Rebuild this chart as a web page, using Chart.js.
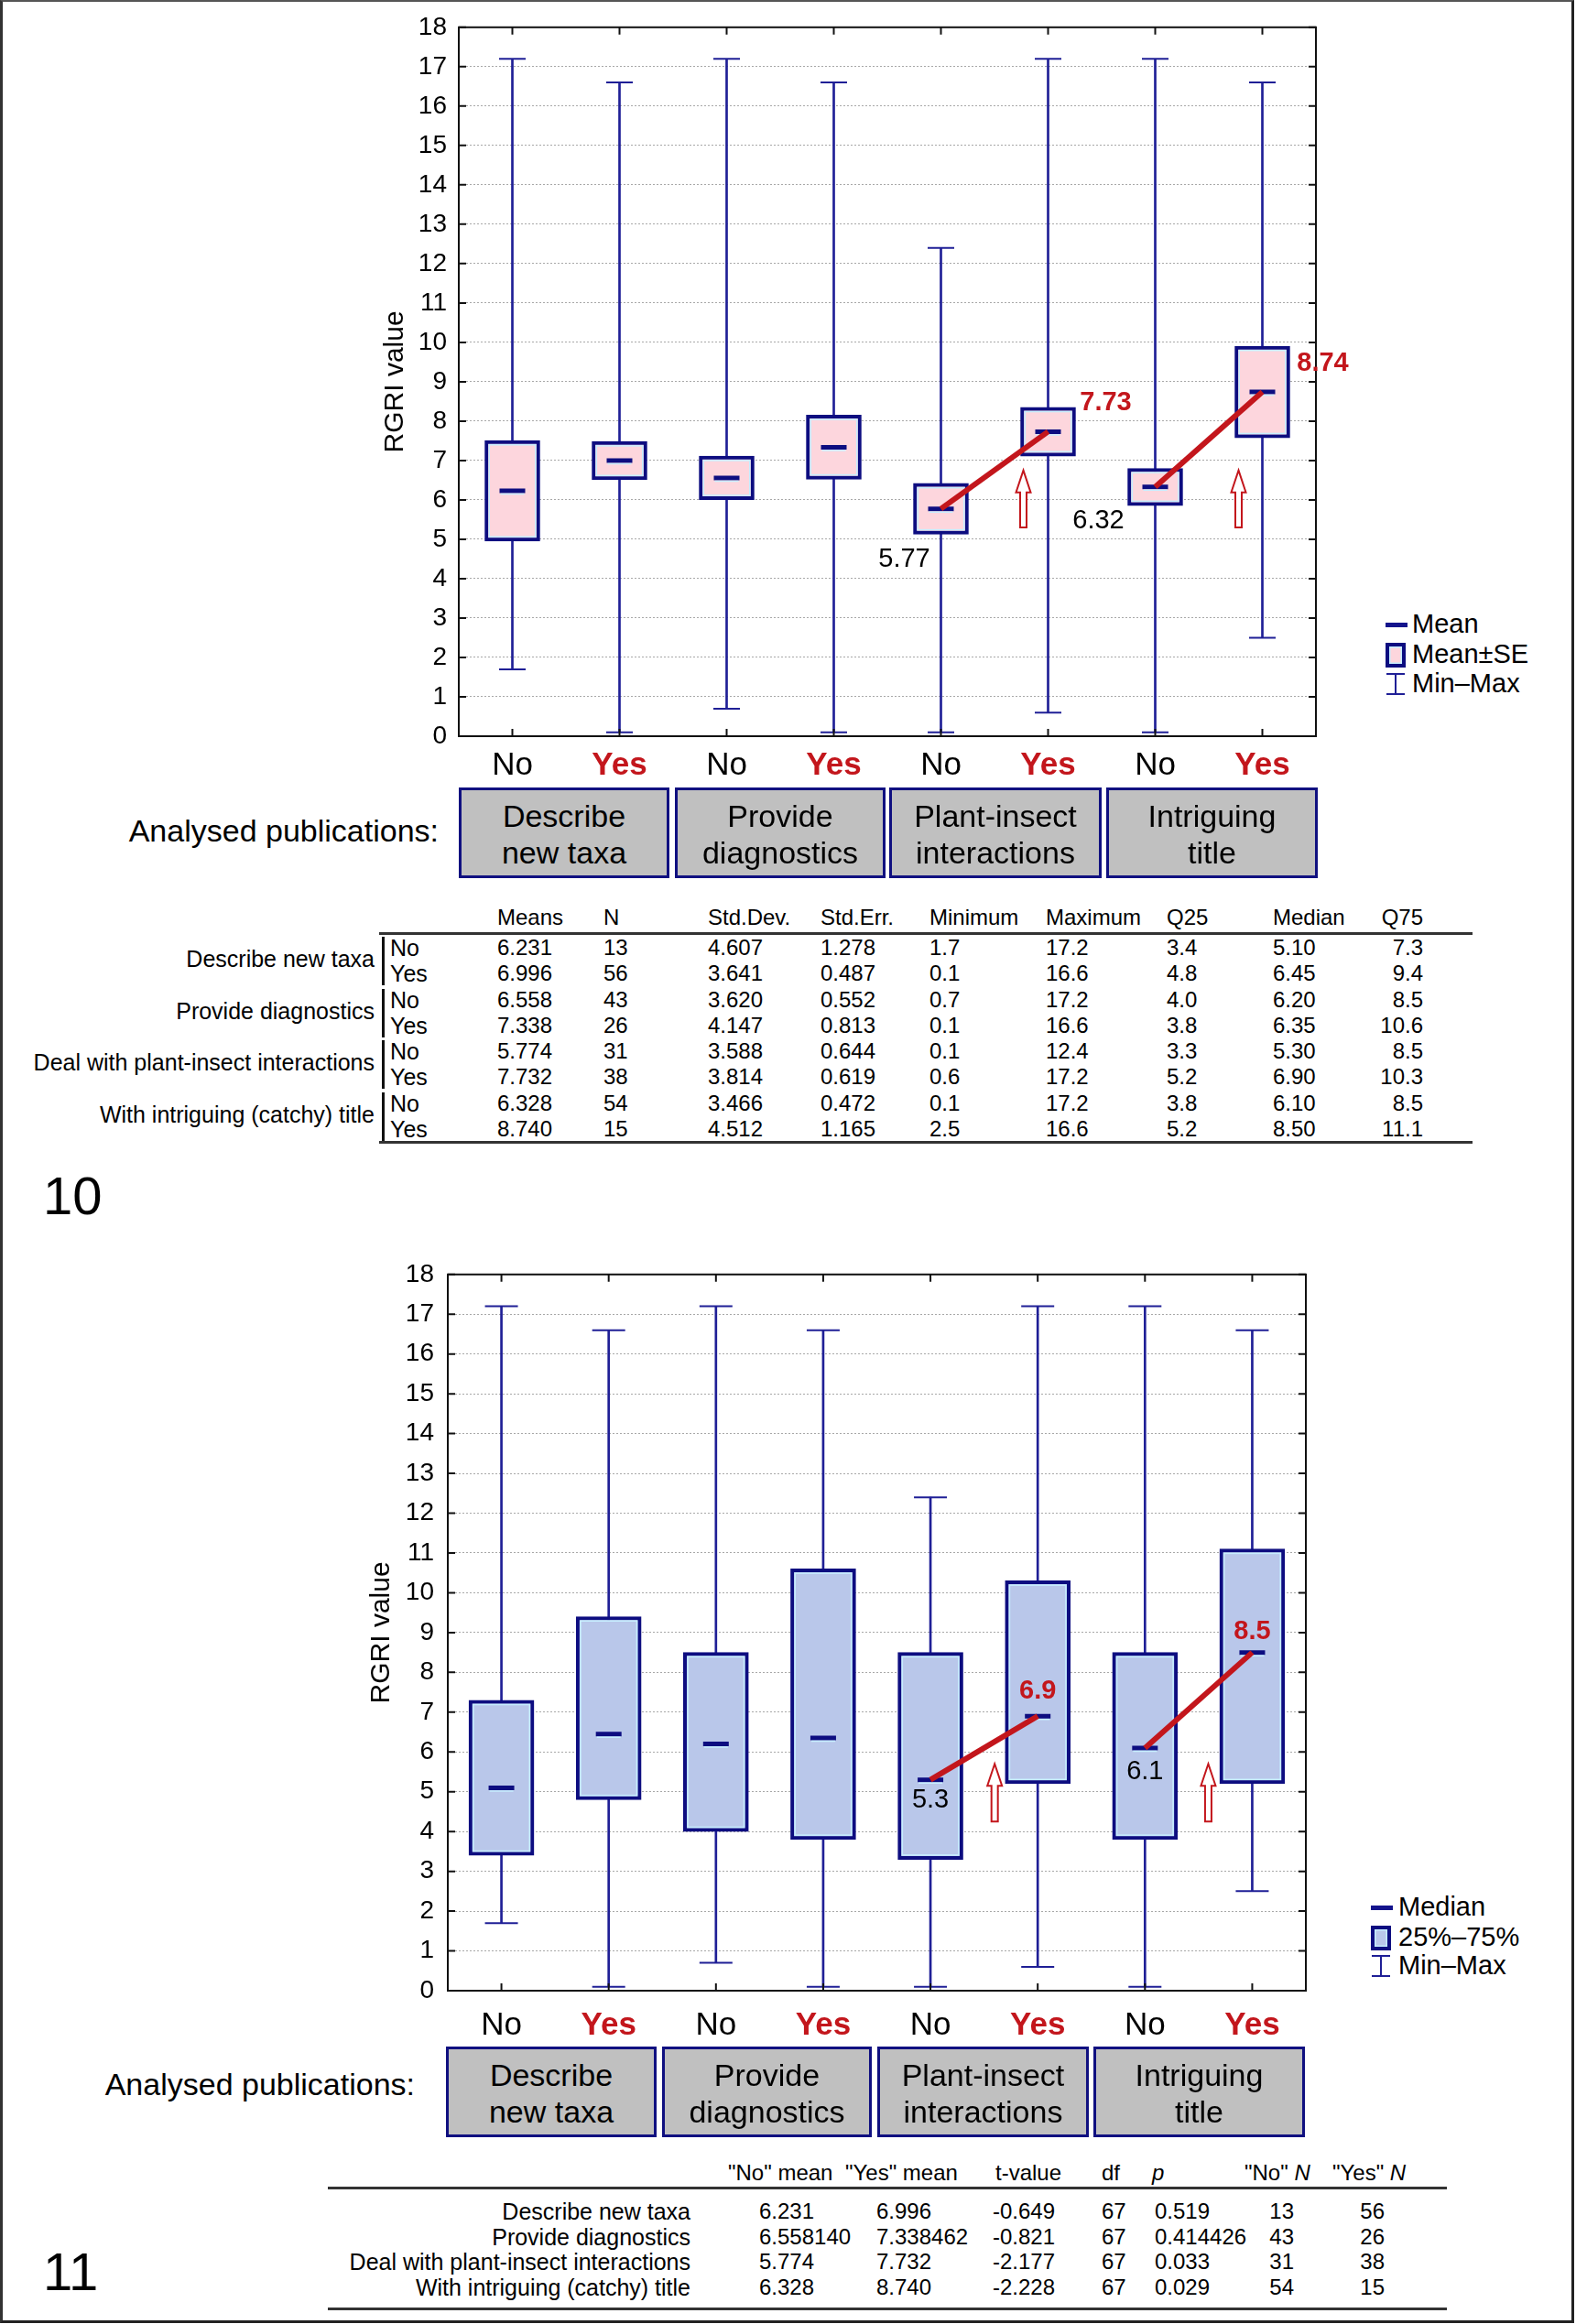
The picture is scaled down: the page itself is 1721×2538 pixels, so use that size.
<!DOCTYPE html>
<html>
<head>
<meta charset="utf-8">
<script src="https://cdn.jsdelivr.net/npm/chart.js@4.4.0/dist/chart.umd.min.js"></script>
<style>
  html, body { margin: 0; padding: 0; background: #fff; }
  #page { position: relative; width: 1721px; height: 2538px; overflow: hidden;
          font-family: 'Liberation Sans', Arial, sans-serif; color: #000; }
  #frame { position: absolute; left: 0; top: 0; width: 1719px; height: 2537px; box-sizing: border-box;
           border-top: 2px solid #555; border-left: 3px solid #333; border-right: 3px solid #222; border-bottom: 3px solid #222; }
  canvas { position: absolute; }
  .t { position: absolute; white-space: nowrap; line-height: 1.15; }
  .grp { position: absolute; box-sizing: border-box; border: 3px solid #101080; background: #c0c0c0;
         display: flex; align-items: center; justify-content: center; text-align: center;
         font-size: 34px; line-height: 40px; padding-top: 2px; }
  .hline { position: absolute; height: 3px; background: #333; }
  .vbar { position: absolute; width: 3px; background: #111; }
  .lg-dash { position: absolute; width: 24px; height: 5px; background: #14148c; }
  .lg-box { position: absolute; width: 22px; height: 27px; box-sizing: border-box; border: 4px solid #0d0d80;
            box-shadow: inset 0 0 0 1.5px #c6eeff; }
  .lg-ws { position: absolute; width: 20px; height: 24px; }
  .lg-ws::before { content: ''; position: absolute; left: 9px; top: 0; width: 2px; height: 24px; background: #1f1f96; }
  .lg-ws::after { content: ''; position: absolute; left: 0; top: 0; width: 20px; height: 24px; box-sizing: border-box;
                  border-top: 2px solid #1f1f96; border-bottom: 2px solid #1f1f96; }
</style>
</head>
<body>
<div id="page">
  <div id="frame"></div>
  <canvas id="c10" width="1130" height="870" style="left:380px;top:0px"></canvas>
  <canvas id="c11" width="1130" height="880" style="left:340px;top:1360px"></canvas>
</div>
<script>
// ---- data ----
const categories = ['No', 'Yes', 'No', 'Yes', 'No', 'Yes', 'No', 'Yes'];
const groupLines = [['Describe', 'new taxa'], ['Provide', 'diagnostics'], ['Plant-insect', 'interactions'], ['Intriguing', 'title']];

const means  = [6.231, 6.996, 6.558, 7.338, 5.774, 7.732, 6.328, 8.740];
const seLow  = [4.953, 6.509, 6.006, 6.525, 5.130, 7.113, 5.856, 7.575];
const seHigh = [7.509, 7.483, 7.110, 8.151, 6.418, 8.351, 6.800, 9.905];
const mins   = [1.7, 0.1, 0.7, 0.1, 0.1, 0.6, 0.1, 2.5];
const maxs   = [17.2, 16.6, 17.2, 16.6, 12.4, 17.2, 17.2, 16.6];
const q25    = [3.4, 4.8, 4.0, 3.8, 3.3, 5.2, 3.8, 5.2];
const medians = [5.10, 6.45, 6.20, 6.35, 5.30, 6.90, 6.10, 8.50];
const q75    = [7.3, 9.4, 8.5, 10.6, 8.5, 10.3, 8.5, 11.1];

// highlighted No -> Yes pairs (category indices) and their labels
const linkPairs = [[4, 5], [6, 7]];
const topNoteIdx  = [4, 5, 6, 7];
const topNoteText = ['5.77', '7.73', '6.32', '8.74'];
const botNoteText = ['5.3', '6.9', '6.1', '8.5'];
// up arrows: category index, start value, tip value
const topArrows = [[5, 5.3, 6.75], [7, 5.3, 6.75]];
const botArrows = [[5, 4.25, 5.7], [7, 4.25, 5.7]];

// table under figure 10
const tableGroups = ['Describe new taxa', 'Provide diagnostics', 'Deal with plant-insect interactions', 'With intriguing (catchy) title'];
const tMeans  = ['6.231', '6.996', '6.558', '7.338', '5.774', '7.732', '6.328', '8.740'];
const tN      = ['13', '56', '43', '26', '31', '38', '54', '15'];
const tStdDev = ['4.607', '3.641', '3.620', '4.147', '3.588', '3.814', '3.466', '4.512'];
const tStdErr = ['1.278', '0.487', '0.552', '0.813', '0.644', '0.619', '0.472', '1.165'];
const tMin    = ['1.7', '0.1', '0.7', '0.1', '0.1', '0.6', '0.1', '2.5'];
const tMax    = ['17.2', '16.6', '17.2', '16.6', '12.4', '17.2', '17.2', '16.6'];
const tQ25    = ['3.4', '4.8', '4.0', '3.8', '3.3', '5.2', '3.8', '5.2'];
const tMedian = ['5.10', '6.45', '6.20', '6.35', '5.30', '6.90', '6.10', '8.50'];
const tQ75    = ['7.3', '9.4', '8.5', '10.6', '8.5', '10.3', '8.5', '11.1'];

// t-test table under figure 11
const ttNoMean  = ['6.231', '6.558140', '5.774', '6.328'];
const ttYesMean = ['6.996', '7.338462', '7.732', '8.740'];
const ttT       = ['-0.649', '-0.821', '-2.177', '-2.228'];
const ttDf      = ['67', '67', '67', '67'];
const ttP       = ['0.519', '0.414426', '0.033', '0.029'];
const ttNoN     = ['13', '43', '31', '54'];
const ttYesN    = ['56', '26', '38', '15'];

// ---- styles ----
const NAVY = '#0d0d80';
const WHISK = '#1f1f96';
const RED = '#c3161c';
const PINK = '#fdd6dd';
const LBLUE = '#b9c7ea';
const GLINT = '#c6eeff';   // light inner edge on boxes and markers
const FONT = "'Liberation Sans', Arial, sans-serif";
Chart.defaults.font.family = FONT;
Chart.defaults.color = '#000';

const page = document.getElementById('page');

// text helper: x is left / center / right edge depending on align, y is the vertical centre
function put(html, x, y, o) {
  o = o || {};
  const d = document.createElement('div');
  d.className = 't';
  d.innerHTML = html;
  d.style.left = x + 'px';
  d.style.top = y + 'px';
  d.style.fontSize = (o.size || 25) + 'px';
  if (o.bold) d.style.fontWeight = 'bold';
  if (o.color) d.style.color = o.color;
  const tx = o.align === 'right' ? '-100%' : o.align === 'center' ? '-50%' : '0';
  d.style.transform = 'translate(' + tx + ',-50%)';
  page.appendChild(d);
  return d;
}
function box(cls, x, y, w, h, extra) {
  const d = document.createElement('div');
  d.className = cls;
  Object.assign(d.style, { left: x + 'px', top: y + 'px' }, w != null ? { width: w + 'px' } : {}, h != null ? { height: h + 'px' } : {}, extra || {});
  page.appendChild(d);
  return d;
}

// up arrow outline
function drawArrow(ctx, x, yBase, yTip) {
  const hw = 8, sw = 3.5, hh = 24;
  ctx.beginPath();
  ctx.moveTo(x, yTip);
  ctx.lineTo(x + hw, yTip + hh);
  ctx.lineTo(x + sw, yTip + hh);
  ctx.lineTo(x + sw, yBase);
  ctx.lineTo(x - sw, yBase);
  ctx.lineTo(x - sw, yTip + hh);
  ctx.lineTo(x - hw, yTip + hh);
  ctx.closePath();
  ctx.fillStyle = '#fff';
  ctx.fill();
  ctx.lineWidth = 2;
  ctx.strokeStyle = RED;
  ctx.stroke();
}

// frame round the plot with inward ticks (Statistica style)
const framePlugin = {
  id: 'frame',
  afterDatasetsDraw(chart) {
    const { ctx, chartArea: a } = chart;
    const xs = chart.scales.x, ys = chart.scales.y;
    ctx.save();
    ctx.strokeStyle = '#111';
    ctx.lineWidth = 2;
    ctx.strokeRect(a.left, a.top, a.right - a.left, a.bottom - a.top);
    ctx.beginPath();
    ys.ticks.forEach(t => {
      const y = ys.getPixelForValue(t.value);
      ctx.moveTo(a.left, y); ctx.lineTo(a.left + 8, y);
      ctx.moveTo(a.right, y); ctx.lineTo(a.right - 8, y);
    });
    categories.forEach((c, i) => {
      const x = xs.getPixelForValue(i);
      ctx.moveTo(x, a.top); ctx.lineTo(x, a.top + 8);
      ctx.moveTo(x, a.bottom); ctx.lineTo(x, a.bottom - 8);
    });
    ctx.stroke();
    ctx.restore();
  }
};

// thin light edge just inside each box and under each centre marker
const glintPlugin = {
  id: 'glint',
  afterDatasetDraw(chart, args) {
    const { ctx } = chart;
    if (args.index === 3) {
      ctx.save();
      ctx.strokeStyle = GLINT;
      ctx.lineWidth = 1.5;
      args.meta.data.forEach(el => {
        const p = el.getProps(['x', 'y', 'base', 'width'], true);
        const top = Math.min(p.y, p.base) + 4.75, bot = Math.max(p.y, p.base) - 4.75;
        ctx.strokeRect(p.x - p.width / 2 + 4.75, top, p.width - 9.5, bot - top);
      });
      ctx.restore();
    } else if (args.index === 4) {
      ctx.save();
      ctx.strokeStyle = GLINT;
      ctx.lineWidth = 1.5;
      ctx.beginPath();
      args.meta.data.forEach(el => {
        const p = el.getProps(['x', 'y'], true);
        ctx.moveTo(p.x - 13, p.y + 3.5); ctx.lineTo(p.x + 13, p.y + 3.5);
      });
      ctx.stroke();
      ctx.restore();
    }
  }
};

// arrows and value notes
const notesPlugin = {
  id: 'notes',
  afterDatasetsDraw(chart, args, opts) {
    const { ctx } = chart;
    const xs = chart.scales.x, ys = chart.scales.y;
    ctx.save();
    (opts.arrows || []).forEach((a, k) => {
      const x = xs.getPixelForValue(a[0]) + opts.arrowDx[k];
      drawArrow(ctx, x, ys.getPixelForValue(a[1]), ys.getPixelForValue(a[2]));
    });
    (opts.text || []).forEach((txt, k) => {
      const i = opts.idx[k];
      const red = i % 2 === 1;
      ctx.font = (red ? 'bold ' : '') + '29px ' + FONT;
      ctx.fillStyle = red ? RED : '#000';
      ctx.textAlign = 'center';
      ctx.textBaseline = 'middle';
      const off = opts.offsets[k];
      ctx.fillText(txt, xs.getPixelForValue(i) + off[0], ys.getPixelForValue(opts.values[i]) + off[1]);
    });
    ctx.restore();
  }
};

function buildChart(canvas, s) {
  const datasets = [
    // whisker line min..max
    { type: 'bar', data: mins.map((m, i) => [m, maxs[i]]), backgroundColor: WHISK, borderWidth: 0,
      barThickness: 2, grouped: false, order: 6 },
    // caps
    { type: 'line', data: mins, showLine: false, pointStyle: 'line', pointRadius: s.capR,
      pointBorderColor: WHISK, pointBorderWidth: 2, order: 5 },
    { type: 'line', data: maxs, showLine: false, pointStyle: 'line', pointRadius: s.capR,
      pointBorderColor: WHISK, pointBorderWidth: 2, order: 5 },
    // box
    { type: 'bar', data: s.low.map((l, i) => [l, s.high[i]]), backgroundColor: s.fill, borderColor: NAVY,
      borderWidth: 4, borderSkipped: false, barThickness: s.boxW, grouped: false, order: 3 },
    // centre marker (mean or median)
    { type: 'line', data: s.center, showLine: false, pointStyle: 'line', pointRadius: 14,
      pointBorderColor: NAVY, pointBorderWidth: 5, order: 2 }
  ];
  // red No -> Yes lines
  linkPairs.forEach(p => {
    datasets.push({ type: 'line', data: s.center.map((v, i) => (i === p[0] || i === p[1]) ? v : null),
      borderColor: RED, borderWidth: 6, pointRadius: 0, spanGaps: false, order: 1 });
  });

  return new Chart(canvas.getContext('2d'), {
    type: 'bar',
    data: { labels: categories, datasets },
    options: {
      responsive: false,
      animation: false,
      events: [],
      layout: { padding: { top: s.padTop, right: s.padRight, left: 0, bottom: 0 } },
      plugins: {
        legend: { display: false },
        tooltip: { enabled: false },
        notes: s.notes
      },
      scales: {
        x: {
          grid: { display: false, drawTicks: false },
          border: { display: false },
          ticks: {
            padding: s.xPad, maxRotation: 0, autoSkip: false,
            color: c => c.index % 2 ? RED : '#000',
            font: c => ({ size: 35, weight: c.index % 2 ? 'bold' : 'normal' })
          },
          afterFit: sc => { sc.height = 66; }
        },
        y: {
          min: 0, max: 18,
          ticks: { stepSize: 1, padding: s.yPad, color: '#000', font: { size: 28 } },
          grid: { color: '#a8a8a8', lineWidth: 1, drawTicks: false },
          border: { display: false, dash: [2, 2] },
          title: { display: true, text: 'RGRI value', color: '#000', font: { size: 30 },
                   padding: { top: s.titlePad, bottom: 0 } },
          afterFit: sc => { sc.width = s.yW; }
        }
      }
    },
    plugins: [glintPlugin, framePlugin, notesPlugin]
  });
}

// ---- figure 10 : mean +- SE ----
buildChart(document.getElementById('c10'), {
  low: seLow, high: seHigh, center: means, fill: PINK, boxW: 60, capR: 14.5,
  padTop: 25, padRight: 73, yW: 121, yPad: 13, titlePad: 34, xPad: 11,
  notes: { values: means, idx: topNoteIdx, text: topNoteText,
           offsets: [[-40, 55], [63, -31], [-62, 37], [66, -31]],
           arrows: topArrows, arrowDx: [-27, -26] }
});

// ---- figure 11 : median, quartiles ----
buildChart(document.getElementById('c11'), {
  low: q25, high: q75, center: medians, fill: LBLUE, boxW: 71, capR: 18,
  padTop: 29, padRight: 44, yW: 149, yPad: 15, titlePad: 59, xPad: 17,
  notes: { values: medians, idx: topNoteIdx, text: botNoteText,
           offsets: [[0, 22], [0, -27], [0, 26], [0, -23]],
           arrows: botArrows, arrowDx: [-47, -48] }
});

// ---- category boxes under the axes ----
const grpTop = [[501, 230], [737, 230], [971, 232], [1208, 231]];
const grpBot = [[487, 230], [723, 229], [958, 231], [1194, 231]];
function groupRow(pos, top, labelRight, labelY) {
  pos.forEach((p, g) => {
    const d = box('grp', p[0], top, p[1], 99);
    d.innerHTML = groupLines[g].join('<br>');
  });
  put('Analysed publications:', labelRight, labelY, { size: 34, align: 'right' });
}
groupRow(grpTop, 860, 479, 908);
groupRow(grpBot, 2235, 453, 2277);

// ---- legends ----
function legend(x, tx, rows, fill, names) {
  box('lg-dash', x, rows[0] - 2);
  box('lg-box', x, rows[1] - 13, null, null, { background: fill });
  box('lg-ws', x + 1, rows[2] - 12);
  names.forEach((n, k) => put(n, tx, rows[k], { size: 29 }));
}
legend(1513, 1542, [682, 715, 747], PINK, ['Mean', 'Mean±SE', 'Min–Max']);
legend(1497, 1527, [2083, 2116, 2147], LBLUE, ['Median', '25%–75%', 'Min–Max']);

// ---- table under figure 10 ----
const rowY = k => 1035 + k * 28.25;
const topCols = [
  { head: 'Means', x: 543, vals: tMeans },
  { head: 'N', x: 659, vals: tN },
  { head: 'Std.Dev.', x: 773, vals: tStdDev },
  { head: 'Std.Err.', x: 896, vals: tStdErr },
  { head: 'Minimum', x: 1015, vals: tMin },
  { head: 'Maximum', x: 1142, vals: tMax },
  { head: 'Q25', x: 1274, vals: tQ25 },
  { head: 'Median', x: 1390, vals: tMedian },
  { head: 'Q75', x: 1554, vals: tQ75, right: true }
];
topCols.forEach(c => {
  const o = { size: 24, align: c.right ? 'right' : 'left' };
  put(c.head, c.x, 1002, o);
  c.vals.forEach((v, k) => put(v, c.x, rowY(k), o));
});
box('hline', 414, 1018, 1194);
box('hline', 414, 1246, 1194);
tableGroups.forEach((g, j) => {
  put(g, 409, (rowY(2 * j) + rowY(2 * j + 1)) / 2 - 2, { size: 25, align: 'right' });
  box('vbar', 417, rowY(2 * j) - 12, null, 53);
  put('No', 426, rowY(2 * j), { size: 25 });
  put('Yes', 426, rowY(2 * j + 1), { size: 25 });
});
put('10', 47, 1306, { size: 58 });

// ---- t-test table under figure 11 ----
const tRowY = k => 2415 + k * 27.7;
const botCols = [
  { head: '"No" mean', hx: 795, vx: 829, vals: ttNoMean },
  { head: '"Yes" mean', hx: 923, vx: 957, vals: ttYesMean },
  { head: 't-value', hx: 1087, vx: 1084, vals: ttT },
  { head: 'df', hx: 1203, vx: 1203, vals: ttDf },
  { head: '<i>p</i>', hx: 1258, vx: 1261, vals: ttP },
  { head: '"No" <i>N</i>', hx: 1359, vx: 1413, vals: ttNoN, right: true },
  { head: '"Yes" <i>N</i>', hx: 1455, vx: 1512, vals: ttYesN, right: true }
];
botCols.forEach(c => {
  put(c.head, c.hx, 2373, { size: 24 });
  c.vals.forEach((v, k) => put(v, c.vx, tRowY(k), { size: 24, align: c.right ? 'right' : 'left' }));
});
box('hline', 358, 2388, 1222);
box('hline', 358, 2520, 1222);
tableGroups.forEach((g, k) => put(g, 754, tRowY(k), { size: 25, align: 'right' }));
put('11', 47, 2481, { size: 58 });
</script>
</body>
</html>
